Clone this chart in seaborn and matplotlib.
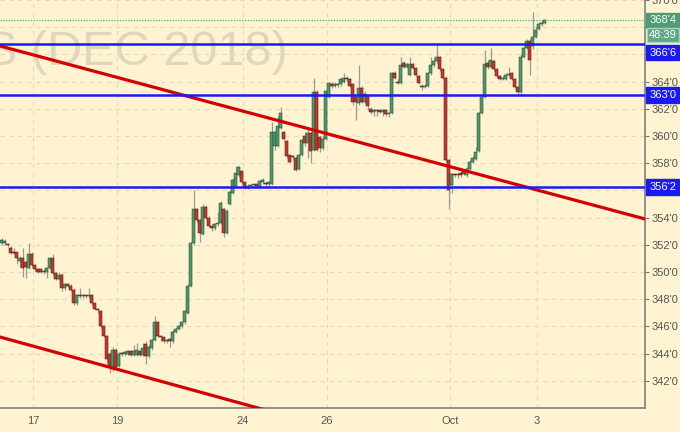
import numpy as np
import matplotlib
matplotlib.use("Agg")
import matplotlib.pyplot as plt
import seaborn as sns

# hourly candles, corn futures dec 2018, from sept 14 to the start of oct 3
opens = [
    352.15, 352.1, 352.0, 351.8, 351.45, 351.45, 350.8, 351.0, 350.7, 350.3,
    351.3, 350.5, 350.2, 350.2, 350.0, 350.0, 350.3, 351.0, 349.9, 349.5,
    349.8, 348.8, 349.1, 349.0, 348.7, 347.7, 348.3, 348.2, 348.25, 348.2,
    348.3, 347.7, 347.3, 347.1, 346.0, 345.3, 344.0, 342.9, 344.3, 343.1,
    344.0, 343.95, 344.0, 344.2, 343.9, 343.9, 344.2, 343.9, 344.7, 343.8,
    344.4, 345.0, 346.3, 345.3, 345.2, 344.9, 345.1, 344.9, 345.6, 345.8,
    346.0, 346.3, 347.0, 349.0, 352.1, 354.6, 353.8, 352.8, 354.8, 354.0,
    353.4, 353.2, 353.5, 353.6, 354.6, 352.9, 355.0, 355.8, 356.3, 357.1,
    357.4, 356.6, 356.2, 356.35, 356.4, 356.5, 356.3, 356.6, 356.5, 356.45,
    356.5, 359.3, 359.3, 360.6, 360.3, 359.6, 358.6, 358.5, 358.4, 357.6,
    358.6, 360.0, 359.5, 360.2, 359.0, 363.2, 359.9, 359.1, 359.8, 362.9,
    363.8, 363.7, 363.75, 363.8, 364.0, 364.3, 364.2, 363.8, 362.9, 362.4,
    363.5, 362.5, 363.0, 362.0, 361.8, 361.85, 361.9, 361.8, 361.9, 361.6,
    361.7, 364.6, 364.0, 363.9, 365.4, 365.1, 364.5, 365.3, 365.0, 364.4,
    363.7, 363.6, 363.7, 364.6, 365.2, 365.5, 365.8, 364.9, 364.3, 358.2,
    356.4, 357.2, 357.1, 357.3, 357.4, 357.1, 357.6, 358.1, 358.3, 358.9,
    361.7, 362.9, 365.4, 365.1, 365.5, 364.9, 364.4, 364.2, 364.2, 364.5,
    364.6, 364.2, 363.6, 363.2, 365.8, 366.5, 367.0, 366.6, 367.3, 367.9,
    368.2, 368.3,
]
highs = [
    352.5, 352.45, 352.1, 351.9, 351.75, 351.5, 351.2, 351.75, 350.8, 352.1,
    351.5, 350.6, 350.3, 350.3, 350.2, 350.4, 351.1, 351.3, 350.0, 350.0,
    349.9, 349.2, 349.2, 349.1, 348.8, 348.4, 348.8, 348.35, 348.3, 348.8,
    348.35, 347.75, 347.35, 347.2, 346.1, 345.4, 344.1, 344.5, 344.4, 344.1,
    344.1, 344.2, 344.3, 344.3, 344.6, 344.8, 344.3, 344.8, 344.9, 344.6,
    345.1, 346.8, 346.4, 345.4, 345.3, 345.05, 345.15, 345.7, 345.9, 346.1,
    346.4, 347.2, 349.1, 352.2, 356.0, 354.7, 353.9, 355.0, 354.9, 354.1,
    353.5, 353.6, 354.4, 355.2, 354.7, 354.6, 356.0, 356.9, 357.8, 357.8,
    357.5, 356.7, 356.45, 356.5, 356.5, 356.55, 356.8, 356.9, 356.6, 356.7,
    361.0, 360.4, 361.5, 362.1, 360.4, 359.7, 358.7, 358.6, 358.5, 358.7,
    359.8, 360.3, 360.5, 360.3, 364.3, 363.4, 360.0, 360.0, 363.4, 364.0,
    364.0, 363.95, 363.9, 364.3, 364.6, 364.4, 364.3, 363.9, 363.0, 365.2,
    363.7, 363.3, 363.1, 362.1, 361.95, 362.0, 362.0, 362.0, 362.0, 361.8,
    364.7, 364.8, 364.2, 365.8, 365.5, 365.4, 365.8, 365.4, 365.1, 364.5,
    363.8, 363.8, 364.7, 365.8, 365.7, 366.8, 365.9, 365.0, 364.4, 358.3,
    357.3, 357.3, 357.3, 357.4, 357.5, 357.7, 358.2, 358.5, 359.2, 361.8,
    363.0, 366.3, 365.6, 366.5, 365.6, 365.0, 364.5, 364.4, 364.6, 365.1,
    364.7, 364.3, 363.7, 366.0, 366.6, 367.1, 367.1, 369.1, 368.0, 368.4,
    368.5, 368.6,
]
lows = [
    352.0, 352.0, 351.85, 351.3, 351.3, 350.6, 350.4, 349.6, 349.55, 350.2,
    350.4, 350.1, 349.9, 349.9, 349.85, 349.55, 350.2, 349.8, 349.4, 349.4,
    348.6, 348.65, 348.9, 348.6, 347.6, 347.55, 348.1, 348.1, 348.1, 348.1,
    347.6, 347.2, 347.0, 345.9, 345.2, 343.3, 342.6, 342.7, 342.8, 343.0,
    343.85, 343.85, 343.9, 343.8, 343.8, 343.8, 343.8, 343.8, 343.2, 343.7,
    344.3, 344.9, 345.2, 344.9, 344.8, 344.8, 344.5, 344.8, 345.5, 345.7,
    345.9, 346.2, 346.9, 348.9, 352.0, 353.7, 352.2, 352.7, 353.9, 353.3,
    353.0, 353.1, 353.4, 353.5, 352.6, 352.8, 354.9, 355.7, 356.2, 357.0,
    356.5, 356.1, 356.1, 356.25, 356.3, 356.2, 356.2, 356.5, 356.35, 356.35,
    356.4, 359.0, 359.2, 360.5, 359.7, 358.4, 358.0, 358.3, 357.4, 357.5,
    358.5, 359.3, 358.4, 358.0, 358.9, 358.9, 358.8, 359.0, 359.7, 362.8,
    363.5, 363.6, 363.6, 363.7, 363.9, 364.0, 363.6, 362.3, 361.2, 362.3,
    362.4, 362.4, 362.0, 361.6, 361.5, 361.5, 361.7, 361.5, 361.5, 361.4,
    361.6, 364.2, 363.8, 363.8, 365.0, 365.0, 364.4, 364.9, 364.4, 363.8,
    363.4, 363.5, 363.6, 364.5, 365.1, 365.4, 364.8, 364.2, 358.1, 354.6,
    355.8, 357.0, 356.9, 357.0, 357.1, 357.0, 357.5, 358.0, 358.2, 358.8,
    361.6, 362.8, 364.9, 365.0, 364.8, 364.3, 364.1, 364.1, 364.1, 364.4,
    364.1, 363.5, 363.0, 363.1, 365.7, 366.4, 364.5, 366.4, 367.2, 367.8,
    368.1, 368.2,
]
closes = [
    352.35, 352.3, 351.95, 351.4, 351.4, 351.0, 351.0, 350.3, 350.4, 351.3,
    350.5, 350.2, 350.0, 350.0, 350.05, 350.3, 351.0, 349.9, 349.5, 349.8,
    348.8, 349.1, 349.0, 348.7, 347.7, 348.3, 348.2, 348.25, 348.2, 348.3,
    347.7, 347.3, 347.2, 346.0, 345.3, 343.6, 343.1, 344.3, 343.0, 344.0,
    343.95, 344.1, 344.2, 343.9, 344.2, 344.3, 343.9, 344.4, 343.8, 344.5,
    345.0, 346.3, 345.3, 345.2, 344.9, 344.95, 344.9, 345.6, 345.8, 346.0,
    346.3, 347.1, 349.0, 352.1, 354.6, 353.8, 352.9, 354.8, 354.0, 353.4,
    353.2, 353.5, 353.6, 355.1, 352.9, 354.5, 355.9, 356.8, 357.3, 357.7,
    356.6, 356.2, 356.35, 356.4, 356.4, 356.3, 356.7, 356.75, 356.45, 356.6,
    360.3, 360.3, 360.7, 361.7, 359.8, 358.5, 358.1, 358.45, 357.5, 358.6,
    359.7, 359.5, 360.2, 358.9, 363.2, 359.0, 359.1, 359.8, 363.3, 363.9,
    363.7, 363.8, 363.8, 364.2, 364.3, 364.2, 363.7, 362.5, 362.5, 363.5,
    362.5, 363.1, 362.2, 361.8, 361.85, 361.9, 361.8, 361.9, 361.6, 361.7,
    364.6, 364.3, 363.9, 365.2, 365.1, 365.3, 365.3, 365.0, 364.5, 363.9,
    363.6, 363.7, 364.6, 365.2, 365.5, 365.8, 364.9, 364.3, 358.2, 356.0,
    357.2, 357.1, 357.15, 357.1, 357.2, 357.6, 358.1, 358.4, 358.8, 361.7,
    362.9, 365.3, 365.1, 365.6, 364.9, 364.4, 364.2, 364.25, 364.5, 364.5,
    364.2, 363.6, 363.2, 365.8, 366.5, 367.0, 365.6, 367.3, 367.8, 368.2,
    368.3, 368.5,
]

# first candle of each labelled day
day_labels = ["17", "19", "24", "26", "Oct", "3"]
day_first_candle = [11, 39, 81, 109, 150, 179]

# drawn levels and trend lines
levels = [366.75, 363.0, 356.25]
upper_trend_x = [-0.5, 214.5]
upper_trend_y = [366.62, 353.90]
lower_trend_x = [-0.5, 100.0]
lower_trend_y = [345.22, 339.12]

# axis labels that sit under a price tag on the original
covered_ticks = [356, 366, 368]

watermark = "S (DEC 2018)"
timer_text = "48:39"


def price_fmt(p):
    # cents and eighths, like 366'6
    whole = int(np.floor(p + 1e-9))
    eighths = int(round((p - whole) * 8))
    return f"{whole}'{eighths}"


sns.set_style("white")
plt.rcParams["font.family"] = ["Liberation Sans", "DejaVu Sans"]

bg = "#fff3d1"
up_col = "#4c9a6c"
down_col = "#c8372b"
blue = "#1a1af2"
green_tag = "#4f9b74"

fig = plt.figure(figsize=(6.8, 4.32), dpi=100)
fig.patch.set_facecolor(bg)
ax = fig.add_axes([0, 24 / 432, 645 / 680, 408 / 432])
ax.set_facecolor(bg)

o = np.array(opens)
h = np.array(highs)
l = np.array(lows)
c = np.array(closes)
x = np.arange(len(c))
rising = c >= o

ax.vlines(x, l, h, color="#999999", lw=0.9, zorder=2)
ax.bar(x, np.maximum(np.abs(c - o), 0.08), bottom=np.minimum(o, c), width=0.8,
       color=np.where(rising, up_col, down_col),
       edgecolor=np.where(rising, "#24452f", "#4a1712"),
       linewidth=0.35, zorder=3)

sns.lineplot(x=upper_trend_x, y=upper_trend_y, color="#d40000", lw=2.3, ax=ax, zorder=4)
sns.lineplot(x=lower_trend_x, y=lower_trend_y, color="#d40000", lw=2.3, ax=ax, zorder=4)

for lv in levels:
    ax.axhline(lv, color=blue, lw=1.8, zorder=5)
ax.axhline(closes[-1], color="#3d9b6b", lw=0.8, ls=(0, (1, 1.5)), zorder=5)

ax.set_xlim(-0.5, 214.5)
ax.set_ylim(340, 370)

yt = np.arange(342, 371, 2)
ax.set_yticks(yt)
ax.set_yticklabels(["" if v in covered_ticks else price_fmt(v) for v in yt])
ax.yaxis.tick_right()
ax.set_xticks(np.array(day_first_candle) - 0.5)
ax.set_xticklabels(day_labels)
ax.tick_params(axis="y", length=3, color="#777777", labelsize=8, labelcolor="#555555", pad=2)
ax.tick_params(axis="x", length=3, color="#777777", labelsize=8, labelcolor="#555555", pad=3)
ax.grid(True, ls=(0, (4, 4)), color="#e2d9c2", lw=0.8)
ax.set_axisbelow(True)

for side in ["left", "top"]:
    ax.spines[side].set_visible(False)
for side in ["right", "bottom"]:
    ax.spines[side].set_color("#808080")
    ax.spines[side].set_linewidth(1.2)

# price tags on the right axis; the top level tag is pushed down under the timer
tag_shift = [-6, 0, 0]
for lv, dy in zip(levels, tag_shift):
    ax.annotate(price_fmt(lv), xy=(1, lv), xycoords=("axes fraction", "data"),
                xytext=(3, dy), textcoords="offset points", va="center", ha="left",
                color="white", fontsize=8,
                bbox=dict(boxstyle="square,pad=0.25", fc=blue, ec=blue),
                annotation_clip=False, zorder=10)
ax.annotate(price_fmt(closes[-1]), xy=(1, closes[-1]), xycoords=("axes fraction", "data"),
            xytext=(3, 0), textcoords="offset points", va="center", ha="left",
            color="white", fontsize=8,
            bbox=dict(boxstyle="square,pad=0.25", fc=green_tag, ec=green_tag),
            annotation_clip=False, zorder=10)
ax.annotate(timer_text, xy=(1, closes[-1]), xycoords=("axes fraction", "data"),
            xytext=(3, -10.5), textcoords="offset points", va="center", ha="left",
            color="white", fontsize=8,
            bbox=dict(boxstyle="square,pad=0.2", fc="#5ea884", ec="#a6d4b9"),
            annotation_clip=False, zorder=11)

ax.text(-15 / 680, 1 - 65 / 432, watermark, transform=fig.transFigure,
        fontsize=35, color="#e0d6be", ha="left", va="baseline", zorder=0.5)

fig.savefig("out.png", dpi=100, facecolor=bg)
